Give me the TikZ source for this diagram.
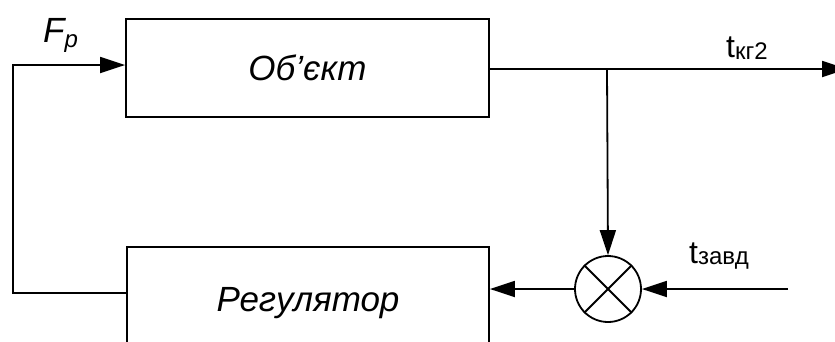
\documentclass[tikz,border=0pt]{standalone}
\usepackage{fontspec}
\setmainfont{Liberation Sans}
\usetikzlibrary{arrows.meta}
\begin{document}
\begin{tikzpicture}[x=1pt,y=-1pt,
  line/.style={line width=1.8pt},
  arr/.style={line, -{Triangle[length=25pt,width=16pt]}},
  block/.style={draw, line width=1.8pt, rectangle, inner sep=0pt,
    text height=25pt, text depth=0pt,
    font=\fontsize{35}{40}\selectfont\itshape},
  junc/.style={draw, line width=1.8pt, circle, minimum size=66pt, inner sep=0pt},
  lbl/.style={inner sep=0pt, anchor=base west}
]
\useasboundingbox (0,0) rectangle (835,341);
\node[block, minimum width=363pt, minimum height=98pt] (obj) at (307.5,68) {Об’єкт};
\node[block, minimum width=362pt, minimum height=103pt] (reg) at (308,298.5) {Регулятор};
\node[junc] (sum) at (608,289) {};
\draw[line] (sum.north west) -- (sum.south east);
\draw[line] (sum.north east) -- (sum.south west);

\coordinate (fbL) at (13,293);
\coordinate (fbT) at (13,65);
\draw[arr] (reg.west |- fbL) -- (fbL) -- (fbT) -- (obj.west |- fbT);

\coordinate (br) at (607,69);
\coordinate (outE) at (847,69);
\draw[arr] (obj.east |- br) -- (outE);
\draw[arr] (br) -- (sum.north);

\coordinate (zin) at (788,289);
\draw[arr] (zin) -- (sum.east);
\draw[arr] (sum.west) -- (reg.east |- sum.west);

\node[lbl, font=\fontsize{35}{40}\selectfont\itshape] (fp) at (43,42) {F\raisebox{-5pt}{\fontsize{24}{24}\selectfont p}};
\node[lbl, font=\fontsize{32}{34}\selectfont] (tk) at (726,57) {t\raisebox{-2pt}{\fontsize{24}{26}\selectfont кг2}};
\node[lbl, font=\fontsize{32}{34}\selectfont] (tz) at (689,263) {t\raisebox{-1pt}{\fontsize{24}{26}\selectfont завд}};
\end{tikzpicture}
\end{document}
